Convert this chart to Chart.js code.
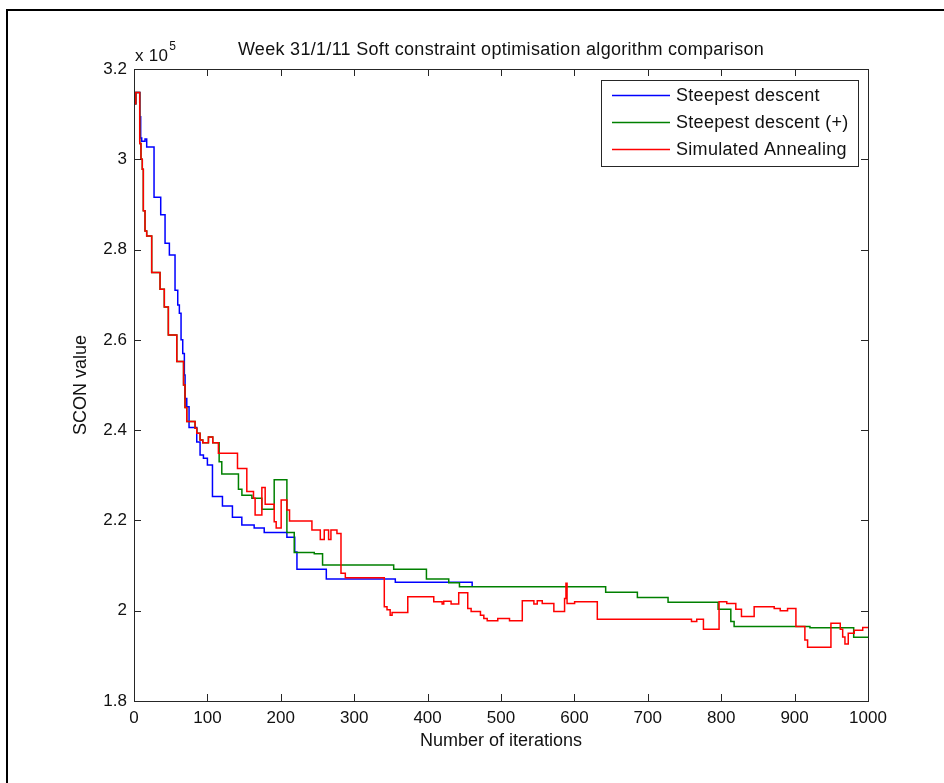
<!DOCTYPE html>
<html>
<head>
<meta charset="utf-8">
<script src="https://cdn.jsdelivr.net/npm/chart.js@4.4.1/dist/chart.umd.min.js"></script>
<style>
html, body { margin: 0; padding: 0; background: #fff; }
#contenedorGrafica { width: 944px; height: 783px; }
</style>
</head>
<body>
<div id="contenedorGrafica"><canvas id="miGrafica" width="944" height="783"></canvas></div>
<script>
// iteraciones y valores SCON (escalones)
var sdIter = [0, 2.5, 8, 9.1, 10.5, 15, 17.3, 27.3, 36.4, 42.3, 48.2, 55.9, 59.6, 61.8, 64.1, 66.4, 68.6, 69.6, 71.9, 75,
    85.5, 90, 94.6, 100, 106.9, 120.5, 134.1, 146.9, 163.7, 177.4, 208.3, 219, 222, 262, 356, 460.7]
var sdScon = [312300, 314800, 309400, 304700, 304000, 304500, 302700, 291600, 287700, 281400, 278800, 271000, 267700, 265900, 260000, 257000, 252200, 247000, 245200, 240600,
    237400, 234500, 233800, 232300, 225300, 223200, 220700, 219000, 218300, 217300, 216300, 213000, 209200, 207000, 206300, 205300]

var sdpIter = [0, 2.5, 7.8, 9.5, 11.3, 12.7, 15, 17.3, 24.1, 35.5, 41.3, 46.8, 58.3, 67.5, 69.5, 71.9, 83.2, 85.5, 90, 93.7, 101.4, 107.3,
    116, 119.6, 142.3, 147, 160.6, 174.2, 191, 208.3, 218.3, 245.6, 256.9, 353.8, 398.4, 428.8, 443.4, 642.6, 685.8, 727.6, 795.8, 813.1, 817.6, 920.9, 980.5, 1000]
var sdpScon = [312300, 314800, 303500, 300000, 297800, 288600, 284100, 283000, 274900, 271200, 267300, 261100, 255200, 250000, 245000, 241900, 240400, 239300, 237800, 237200, 238500, 237200,
    233000, 230300, 226900, 225600, 224900, 222500, 229000, 217300, 212900, 212600, 210100, 209200, 207000, 206200, 205300, 204100, 202900, 201900, 200300, 197600, 196500, 196200, 194100, 194100]

var saIter = [0, 2.5, 7.8, 9.5, 11.3, 12.7, 15, 17.3, 24.1, 35.5, 41.3, 46.8, 58.3, 67.5, 69.5, 71.9, 83.2, 85.5, 90, 93.7,
    101.4, 107.3, 115, 141, 153.7, 162.8, 165, 174.2, 178.7, 191, 193.7, 200.5, 208.3, 211.9, 242.4, 253.8, 259.2, 265.1, 268.3, 276.5,
    282, 287.9, 341, 344.7, 349, 351.6, 373, 408.4, 419.8, 422, 432, 442.4, 454.7, 459.3, 472, 476.6, 481.2, 495.6, 511.6, 529,
    544.8, 549.4, 556.2, 572, 586.6, 588.5, 590, 600.3, 631.2, 759.5, 766.7, 775.8, 797.1, 807.6, 819.9, 827.6, 844.9, 872.2, 880.4, 890.4,
    901.8, 914, 917.7, 949.5, 962.2, 965.5, 968.6, 973.1, 981.3, 992.8, 1000]
var saScon = [312300, 314800, 303500, 300000, 297800, 288600, 284100, 283000, 274900, 271200, 267300, 261100, 255200, 250000, 245000, 241900, 240400, 239300, 237800, 237200,
    238500, 237200, 234900, 231500, 226400, 224900, 221200, 227300, 223600, 219700, 218300, 224500, 222300, 219900, 217900, 215800, 217900, 215800, 217900, 217100,
    208300, 207300, 200900, 200200, 199000, 199600, 203100, 202000, 201500, 202100, 201500, 204000, 200500, 199800, 199000, 198300, 197800, 198300, 197800, 202200,
    201500, 202200, 201600, 199800, 202700, 206100, 201600, 202000, 198100, 197600, 198100, 195900, 202000, 201600, 200300, 198700, 200900, 200500, 200000, 200500,
    196500, 193500, 191900, 197200, 195900, 194200, 192600, 195000, 195700, 196300, 196300]

var xTicks = [0, 100, 200, 300, 400, 500, 600, 700, 800, 900, 1000]
var xTickLabels = ['0', '100', '200', '300', '400', '500', '600', '700', '800', '900', '1000']
var yTicks = [180000, 200000, 220000, 240000, 260000, 280000, 300000, 320000]
var yTickLabels = ['1.8', '2', '2.2', '2.4', '2.6', '2.8', '3', '3.2']

var fuente = "'Liberation Sans', Arial, sans-serif"
var colorTexto = '#111'

function puntos(xs, ys) {
    return xs.map(function (x, i) { return { x: x, y: ys[i] } })
}

// caja, marcas hacia adentro, titulo, leyenda y marco exterior al estilo MATLAB
var estiloMatlab = {
    id: 'estiloMatlab',
    afterDraw: function (chart) {
        var ctx = chart.ctx
        var a = chart.chartArea
        var sx = chart.scales.x, sy = chart.scales.y
        ctx.save()

        ctx.strokeStyle = '#000'
        ctx.lineWidth = 2
        ctx.beginPath()
        ctx.moveTo(7, 783); ctx.lineTo(7, 10); ctx.lineTo(944, 10)
        ctx.stroke()

        ctx.strokeStyle = '#262626'
        ctx.lineWidth = 1
        ctx.strokeRect(a.left + 0.5, a.top + 0.5, a.right - a.left, a.bottom - a.top)
        ctx.beginPath()
        xTicks.forEach(function (v) {
            var px = Math.round(sx.getPixelForValue(v)) + 0.5
            ctx.moveTo(px, a.bottom); ctx.lineTo(px, a.bottom - 7)
            ctx.moveTo(px, a.top); ctx.lineTo(px, a.top + 7)
        })
        yTicks.forEach(function (v) {
            var py = Math.round(sy.getPixelForValue(v)) + 0.5
            ctx.moveTo(a.left, py); ctx.lineTo(a.left + 7, py)
            ctx.moveTo(a.right, py); ctx.lineTo(a.right - 7, py)
        })
        ctx.stroke()

        ctx.letterSpacing = '0.3px'
        ctx.fillStyle = colorTexto
        ctx.textBaseline = 'alphabetic'
        ctx.textAlign = 'center'
        ctx.font = '18px ' + fuente
        ctx.fillText('Week 31/1/11 Soft constraint optimisation algorithm comparison', (a.left + a.right) / 2, 55)

        ctx.textAlign = 'left'
        ctx.font = '17px ' + fuente
        ctx.fillText('x 10', a.left + 1, 61)
        var w = ctx.measureText('x 10').width
        ctx.font = '12px ' + fuente
        ctx.fillText('5', a.left + 2 + w, 50)

        // leyenda
        var lx = 601, ly = 80, lw = 257, lh = 86
        ctx.fillStyle = '#fff'
        ctx.fillRect(lx, ly, lw, lh)
        ctx.strokeStyle = '#262626'
        ctx.strokeRect(lx + 0.5, ly + 0.5, lw, lh)
        ctx.font = '18px ' + fuente
        ctx.textBaseline = 'middle'
        chart.data.datasets.forEach(function (ds, i) {
            var y = ly + 15.5 + i * 27
            ctx.strokeStyle = ds.borderColor
            ctx.lineWidth = 1.5
            ctx.beginPath(); ctx.moveTo(lx + 11, y); ctx.lineTo(lx + 69, y); ctx.stroke()
            ctx.fillStyle = colorTexto
            ctx.fillText(ds.label, lx + 75, y + 1)
        })
        ctx.restore()
    }
}

var graf = new Chart('miGrafica', {
    type: 'line',
    data: {
        datasets: [
            { label: 'Steepest descent', data: puntos(sdIter, sdScon), borderColor: '#0000ff', order: 3 },
            { label: 'Steepest descent (+)', data: puntos(sdpIter, sdpScon), borderColor: '#008000', order: 2 },
            { label: 'Simulated Annealing', data: puntos(saIter, saScon), borderColor: '#ff0000', order: 1 }
        ]
    },
    options: {
        responsive: false,
        animation: false,
        devicePixelRatio: 1,
        layout: { padding: { left: 70, right: 76, top: 69, bottom: 31 } },
        elements: {
            line: { borderWidth: 1.5, stepped: true, fill: false },
            point: { radius: 0 }
        },
        plugins: {
            legend: { display: false },
            tooltip: { enabled: false }
        },
        scales: {
            x: {
                type: 'linear',
                min: 0,
                max: 1000,
                afterBuildTicks: function (s) { s.ticks = xTicks.map(function (v) { return { value: v } }) },
                afterFit: function (s) { s.height = 51 },
                grid: { display: false, drawTicks: false },
                border: { display: false },
                ticks: {
                    color: colorTexto, font: { family: fuente, size: 17 }, padding: 7, maxRotation: 0,
                    callback: function (v, i) { return xTickLabels[i] }
                },
                title: { display: true, text: 'Number of iterations', color: colorTexto, font: { family: fuente, size: 18 }, padding: 0 }
            },
            y: {
                type: 'linear',
                min: 180000,
                max: 320000,
                afterBuildTicks: function (s) { s.ticks = yTicks.map(function (v) { return { value: v } }) },
                afterFit: function (s) { s.width = 64 },
                grid: { display: false, drawTicks: false },
                border: { display: false },
                ticks: {
                    color: colorTexto, font: { family: fuente, size: 17 }, padding: 7,
                    callback: function (v, i) { return yTickLabels[i] }
                },
                title: { display: true, text: 'SCON value', color: colorTexto, font: { family: fuente, size: 18 }, padding: 0 }
            }
        }
    },
    plugins: [estiloMatlab]
})
</script>
</body>
</html>
